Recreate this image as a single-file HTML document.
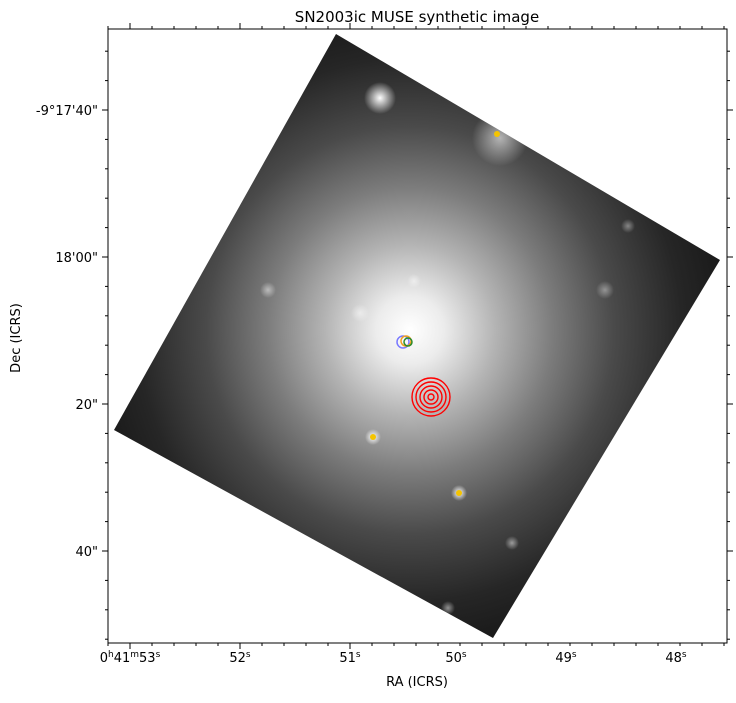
<!DOCTYPE html>
<html><head><meta charset="utf-8"><style>
body{margin:0;background:#fff;}
svg text{font-family:"DejaVu Sans","Liberation Sans",sans-serif;fill:#000;}
</style></head><body>
<svg width="736" height="698" xmlns="http://www.w3.org/2000/svg">
<defs>
<radialGradient id="glow" cx="410" cy="330" r="340" gradientUnits="userSpaceOnUse">
<stop offset="0" stop-color="#ffffff"/>
<stop offset="0.1" stop-color="#ececec"/>
<stop offset="0.25" stop-color="#b4b4b4"/>
<stop offset="0.42" stop-color="#7c7c7c"/>
<stop offset="0.6" stop-color="#4a4a4a"/>
<stop offset="0.8" stop-color="#262626"/>
<stop offset="1" stop-color="#141414"/>
</radialGradient>
<radialGradient id="star"><stop offset="0" stop-color="#fff" stop-opacity="1"/><stop offset="1" stop-color="#fff" stop-opacity="0"/></radialGradient>
<clipPath id="clip"><polygon points="336,34 720,260 493,638 114,430"/></clipPath>
</defs>
<text x="417" y="22" text-anchor="middle" font-size="15">SN2003ic MUSE synthetic image</text>
<g clip-path="url(#clip)">
<rect x="100" y="30" width="630" height="615" fill="url(#glow)"/>
<circle cx="380" cy="98" r="16" fill="url(#star)"/>
<circle cx="500" cy="138" r="28" fill="url(#star)" opacity="0.6"/>
<circle cx="268" cy="290" r="8" fill="url(#star)" opacity="0.5"/>
<circle cx="605" cy="290" r="9" fill="url(#star)" opacity="0.4"/>
<circle cx="628" cy="226" r="7" fill="url(#star)" opacity="0.4"/>
<circle cx="360" cy="313" r="9" fill="url(#star)" opacity="0.5"/>
<circle cx="414" cy="281" r="7" fill="url(#star)" opacity="0.5"/>
<circle cx="512" cy="543" r="7" fill="url(#star)" opacity="0.5"/>
<circle cx="448" cy="608" r="7" fill="url(#star)" opacity="0.5"/>
<circle cx="373" cy="437" r="8" fill="url(#star)"/>
<circle cx="459" cy="493" r="8" fill="url(#star)"/>
</g>
<g>
<circle cx="497" cy="134" r="3" fill="#f5c400"/>
<circle cx="373" cy="437" r="3" fill="#f5c400"/>
<circle cx="459" cy="493" r="3" fill="#f5c400"/>
</g>
<g fill="none" stroke-width="1.5">
<circle cx="403" cy="342" r="6" stroke="#7a7aff"/>
<circle cx="406" cy="341" r="5" stroke="#f0a020"/>
<circle cx="408" cy="342" r="4" stroke="#2a8a2a"/>
</g>
<g fill="none" stroke="red" stroke-width="1.4">
<circle cx="431" cy="397" r="3"/><circle cx="431" cy="397" r="7"/><circle cx="431" cy="397" r="11"/><circle cx="431" cy="397" r="15"/><circle cx="431" cy="397" r="19"/>
</g>
<rect x="108" y="29" width="619" height="614" fill="none" stroke="#000" stroke-width="1"/>
<g id="ticks" stroke="#000"></g>
<g id="labels"></g>
<text x="417" y="686" text-anchor="middle" font-size="13">RA (ICRS)</text>
<text x="20" y="338" text-anchor="middle" font-size="13" transform="rotate(-90 20 338)">Dec (ICRS)</text>
<script>
const xTickParts=[["0","h","41","m","53","s"],["52","s"],["51","s"],["50","s"],["49","s"],["48","s"]];
const xTickPos=[130,240,350,456,566,676];
const yTickLabels=["-9°17'40\"","18'00\"","20\"","40\""];
const yTickPos=[110,257,404,551];
const NS="http://www.w3.org/2000/svg";
const tg=document.getElementById('ticks'),lg=document.getElementById('labels');
function line(x1,y1,x2,y2){const l=document.createElementNS(NS,'line');l.setAttribute('x1',x1);l.setAttribute('y1',y1);l.setAttribute('x2',x2);l.setAttribute('y2',y2);


tg.appendChild(l);}
const dx=(xTickPos[1]-xTickPos[0])/5;
for(let x=xTickPos[0]-dx;x<727;x+=dx){if(x<108)continue;const maj=xTickPos.some(p=>Math.abs(p-x)<2);const L=maj?6:3;line(x,643,x,643+L);line(x,29,x,29-L);}
const dy=(yTickPos[1]-yTickPos[0])/5;
for(let y=yTickPos[0]-dy*3;y<643;y+=dy){if(y<29)continue;const maj=yTickPos.some(p=>Math.abs(p-y)<2);const L=maj?6:3;line(108,y,108-L,y);line(727,y,727+L,y);}
xTickParts.forEach((parts,i)=>{const e=document.createElementNS(NS,'text');e.setAttribute('x',xTickPos[i]);e.setAttribute('y',662);e.setAttribute('text-anchor','middle');e.setAttribute('font-size','13');
parts.forEach((p,j)=>{const s=document.createElementNS(NS,'tspan');const sup=j%2===1;if(sup){s.setAttribute('font-size','9');s.setAttribute('dy','-5');}else if(j>0){s.setAttribute('dy','5');}s.textContent=p;e.appendChild(s);});


lg.appendChild(e);});
yTickLabels.forEach((t,i)=>{const e=document.createElementNS(NS,'text');e.setAttribute('x',98);e.setAttribute('y',yTickPos[i]+5);e.setAttribute('text-anchor','end');e.setAttribute('font-size','13');e.textContent=t;


lg.appendChild(e);});
</script>
</svg>
</body></html>
